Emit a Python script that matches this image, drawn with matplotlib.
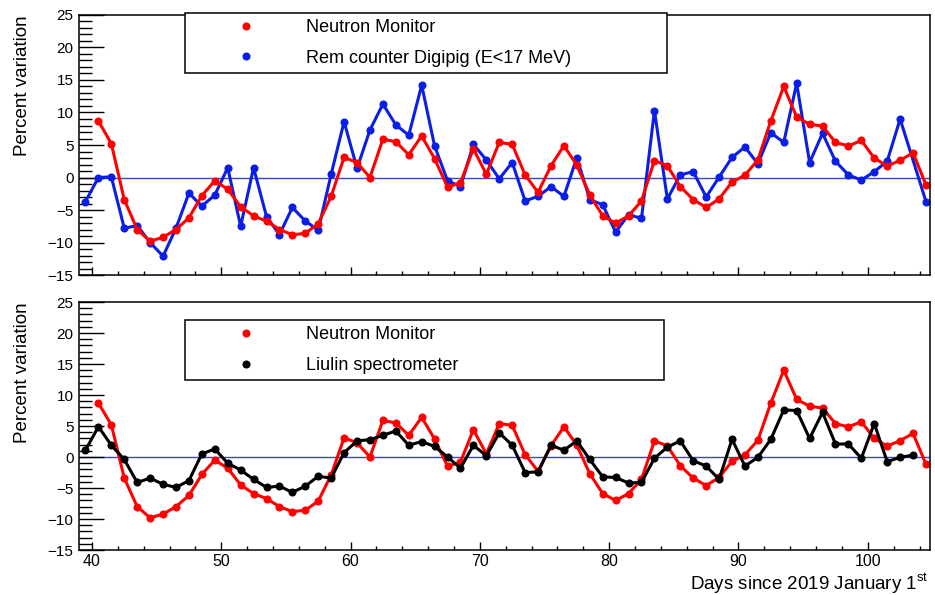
import numpy as np
import matplotlib
matplotlib.use('Agg')
import matplotlib.pyplot as plt
from matplotlib.lines import Line2D
from matplotlib.ticker import MultipleLocator

plt.rcParams['font.family'] = ['Liberation Sans', 'DejaVu Sans']
plt.rcParams['mathtext.fontset'] = 'custom'
plt.rcParams['mathtext.rm'] = 'Liberation Sans'

# Days (mid-day bins) since 2019 January 1st
days = np.arange(39.5, 105.0, 1.0)

# Neutron monitor percent variation (same series in both panels)
neutron = [np.nan, 8.7, 5.2, -3.4, -8.0, -9.8, -9.2, -8.0, -6.2, -2.8,
           -0.5, -1.8, -4.5, -5.9, -6.7, -8.0, -8.8, -8.6, -7.1, -2.9,
           3.1, 2.3, 0.0, 5.9, 5.5, 3.5, 6.4, 2.9, -1.5, -0.8,
           4.4, 0.5, 5.4, 5.1, 0.4, -2.3, 1.8, 4.9, 1.9, -2.7,
           -5.9, -7.0, -5.9, -3.6, 2.6, 1.8, -1.4, -3.4, -4.6, -3.3,
           -0.7, 0.35, 2.7, 8.7, 14.0, 9.3, 8.2, 7.9, 5.4, 4.85,
           5.7, 3.0, 1.75, 2.65, 3.8, -1.15]

# Rem counter Digipig (E<17 MeV)
digipig = [-3.7, 0.0, 0.1, -7.8, -7.4, -10.0, -12.1, -7.8, -2.4, -4.4,
           -2.7, 1.5, -7.5, 1.5, -6.0, -8.8, -4.6, -6.7, -8.1, 0.5,
           8.6, 1.4, 7.3, 11.3, 8.1, 6.5, 14.2, 4.85, -0.5, -1.4,
           5.1, 2.7, -0.2, 2.3, -3.6, -2.9, -1.4, -2.9, 3.05, -3.4,
           -4.2, -8.4, -5.7, -6.3, 10.3, -3.3, 0.4, 0.9, -3.0, 0.05,
           3.1, 4.7, 2.1, 6.9, 5.4, 14.5, 2.3, 6.8, 2.5, 0.4,
           -0.4, 0.9, 2.5, 9.0, np.nan, -3.7]

# Liulin spectrometer
liulin = [1.1, 4.9, 1.9, -0.4, -4.1, -3.4, -4.4, -4.9, -3.8, 0.5,
          1.3, -1.0, -2.1, -3.6, -4.9, -4.7, -5.7, -4.7, -3.1, -3.4,
          0.7, 2.6, 2.8, 3.5, 4.2, 1.9, 2.5, 1.7, 0.0, -1.8,
          1.9, 0.2, 3.9, 1.9, -2.5, -2.4, 1.9, 1.1, 2.6, -0.4,
          -3.2, -3.3, -4.2, -4.1, -0.2, 1.6, 2.6, -0.6, -1.45, -3.6,
          2.85, -1.45, -0.05, 2.85, 7.6, 7.5, 3.0, 7.2, 2.1, 2.1,
          -0.2, 5.4, -0.75, -0.05, 0.3, np.nan]

RED = '#ff0000'
BLUE = '#0a1ee6'
BLACK = '#000000'


def draw_series(ax, x, y, color):
    y = np.asarray(y, dtype=float)
    ok = np.isfinite(y)
    ax.plot(x[ok], y[ok], '-o', color=color, lw=2.2, ms=4.8, mec=color)


def style_axes(ax):
    ax.set_xlim(39, 104.8)
    ax.set_ylim(-15, 25)
    ax.axhline(0, color='#3a46c8', lw=1, zorder=1)
    ax.xaxis.set_major_locator(MultipleLocator(10))
    ax.xaxis.set_minor_locator(MultipleLocator(2))
    ax.yaxis.set_major_locator(MultipleLocator(5))
    ax.yaxis.set_minor_locator(MultipleLocator(1))
    ax.tick_params(axis='y', which='major', direction='in', length=18, width=1,
                   labelsize=11, pad=4, right=False)
    ax.tick_params(axis='y', which='minor', direction='in', length=9, width=1, right=False)
    ax.tick_params(axis='x', which='major', direction='in', length=6, width=1,
                   labelsize=11.5, pad=3, top=False)
    ax.tick_params(axis='x', which='minor', direction='in', length=3, width=1, top=False)
    for s in ax.spines.values():
        s.set_linewidth(1.1)
    ax.set_ylabel('Percent variation', fontsize=13.5, loc='top')
    ax.yaxis.set_label_coords(-0.056, 1.0)


def add_legend(ax, handles, labels, bbox):
    leg = ax.legend(handles, labels, loc='upper left', bbox_to_anchor=bbox,
                    mode='expand', fontsize=13, frameon=True, fancybox=False,
                    edgecolor='black', framealpha=1, borderpad=0.35,
                    handlelength=6.0, handletextpad=0.35, labelspacing=0.75,
                    borderaxespad=0)
    leg.get_frame().set_linewidth(1.1)
    return leg


fig = plt.figure(figsize=(9.35, 5.95), dpi=100)
ax1 = fig.add_axes([0.0845, 0.5378, 0.910, 0.437])
ax2 = fig.add_axes([0.0845, 0.0756, 0.910, 0.4168])

# Top panel: neutron monitor vs Digipig
draw_series(ax1, days, digipig, BLUE)
draw_series(ax1, days, neutron, RED)
style_axes(ax1)
ax1.tick_params(axis='x', labelbottom=False)
add_legend(ax1,
           [Line2D([], [], marker='o', ls='none', color=RED, ms=4.8),
            Line2D([], [], marker='o', ls='none', color=BLUE, ms=4.8)],
           ['Neutron Monitor', 'Rem counter Digipig (E<17 MeV)'],
           (0.1246, 1.008, 0.566, 0.0))

# Bottom panel: neutron monitor vs Liulin
draw_series(ax2, days, neutron, RED)
draw_series(ax2, days, liulin, BLACK)
style_axes(ax2)
add_legend(ax2,
           [Line2D([], [], marker='o', ls='none', color=RED, ms=4.8),
            Line2D([], [], marker='o', ls='none', color=BLACK, ms=4.8)],
           ['Neutron Monitor', 'Liulin spectrometer'],
           (0.1246, 0.927, 0.563, 0.0))
ax2.set_xlabel(r'Days since 2019 January 1$^{\mathrm{st}}$', fontsize=13.5, loc='right')
ax2.xaxis.set_label_coords(0.999, -0.086)

fig.savefig('out.png', dpi=100)
